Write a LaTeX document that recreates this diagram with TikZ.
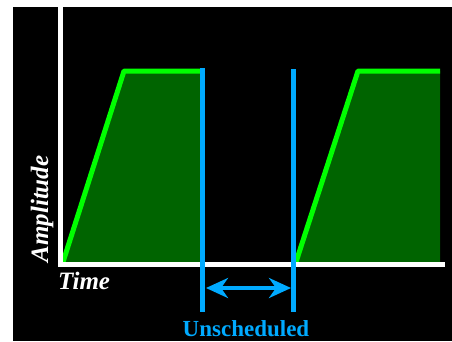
\documentclass[tikz,border=0pt]{standalone}
\usepackage{fontspec}
\setmainfont{Liberation Serif}
\usetikzlibrary{arrows.meta}
\definecolor{sigblue}{RGB}{0,170,255}
\definecolor{brightgreen}{RGB}{0,255,0}
\definecolor{darkgreen}{RGB}{0,100,0}
\tikzset{
  axisline/.style={draw=white, line width=5pt},
  edgeline/.style={draw=brightgreen, line width=5pt, line join=round},
  fillshape/.style={fill=darkgreen},
  markline/.style={draw=sigblue, line width=5pt},
  gaparrow/.style={draw=sigblue, line width=4pt, {Stealth[length=22pt,width=20pt,inset=7pt]}-{Stealth[length=22pt,width=20pt,inset=7pt]}},
  labeltext/.style={inner sep=0pt, text=white, font=\fontsize{25}{25}\selectfont\bfseries\itshape},
  gaptext/.style={inner sep=0pt, text=sigblue, font=\fontsize{23}{23}\selectfont\bfseries}
}
\begin{document}
\begin{tikzpicture}[x=1pt,y=-1pt]
\useasboundingbox (0,0) rectangle (452,341);
\fill[black] (13,7) rectangle (452,341);
% named coordinates
\coordinate (a1) at (63,262);
\coordinate (b1) at (124,71);
\coordinate (c1) at (202,71);
\coordinate (d1) at (202,262);
\coordinate (a2) at (296,262);
\coordinate (b2) at (358,71);
\coordinate (c2) at (440,71);
\coordinate (d2) at (440,262);
\coordinate (ytop) at (60.5,7);
\coordinate (origin) at (60.5,264.5);
\coordinate (xend) at (445,264.5);
\coordinate (m1top) at (202.5,68);
\coordinate (m1bot) at (202.5,312);
\coordinate (m2top) at (293.5,69);
\coordinate (m2bot) at (293.5,312);
\coordinate (arrL) at (206,288);
\coordinate (arrR) at (291,288);
% pulses
\fill[fillshape] (a1) -- (b1) -- (c1) -- (d1) -- cycle;
\draw[edgeline] (a1) -- (b1) -- (c1);
\fill[fillshape] (a2) -- (b2) -- (c2) -- (d2) -- cycle;
\draw[edgeline] (a2) -- (b2) -- (c2);
% axes
\draw[axisline] (ytop) -- (60.5,267);
\draw[axisline] (58,264.5) -- (xend);
% markers
\draw[markline] (m1top) -- (m1bot);
\draw[markline] (m2top) -- (m2bot);
\draw[gaparrow] (arrL) -- (arrR);
% labels
\node[labeltext, anchor=base west] (time) at (58,289) {Time};
\node[labeltext, anchor=base, rotate=90] (amp) at (48,209) {Amplitude};
\node[gaptext, anchor=base] (unsched) at (246,336) {Unscheduled};
\end{tikzpicture}
\end{document}
